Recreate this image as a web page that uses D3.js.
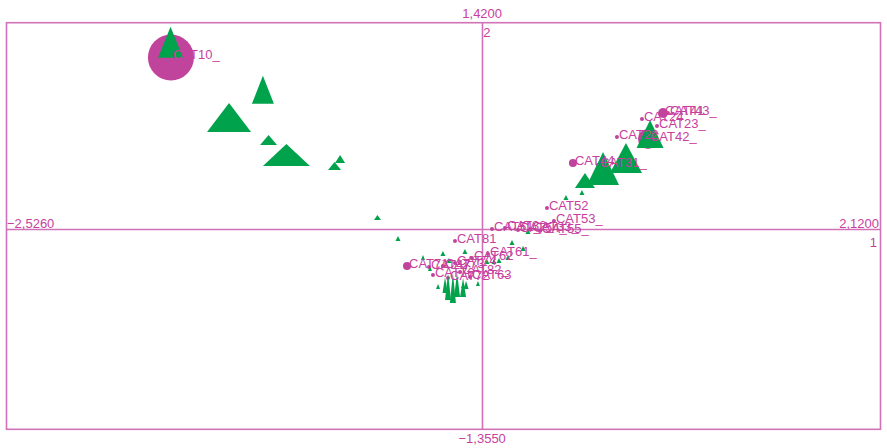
<!DOCTYPE html>
<html>
<head>
<meta charset="utf-8">
<script src="https://cdn.jsdelivr.net/npm/d3@7"></script>
<style>
  html, body { margin: 0; padding: 0; background: #ffffff; }
  svg { display: block; }
  text { font-family: "Liberation Sans", Arial, sans-serif; }
</style>
</head>
<body>
<svg id="chart" width="887" height="448"></svg>
<script>
// ---- Axis extents ----
const xDomain = [-2.526, 2.12];
const yDomain = [-1.355, 1.42];
const axisNames = ["1", "2"];

// ---- Category points (magenta) ----
const catLabels = ["CAT10_","CAT24","CAT41","CAT43_","CAT23_","CAT22","CAT42_","CAT44","CAT31_","CAT52","CAT53_","CAT51_","CAT32_","CAT54_","CAT33_","CAT55_","CAT81","CAT61_","CAT62","CAT82_","CAT71","CAT47","CAT73","CAT74","CAT76","CAT72","CAT63"];
const catX = [-1.652,0.852,0.964,0.990,0.932,0.719,0.884,0.485,0.618,0.347,0.384,0.055,0.124,0.193,0.257,0.310,-0.142,0.033,-0.052,-0.115,-0.397,-0.280,-0.206,-0.142,-0.259,-0.179,-0.062];
const catY = [1.183,0.763,0.804,0.804,0.715,0.640,0.627,0.463,0.449,0.156,0.067,0.012,0.019,0.005,0.012,-0.001,-0.070,-0.158,-0.186,-0.281,-0.240,-0.247,-0.240,-0.220,-0.302,-0.322,-0.315];
const catMass = [0.918,0.007,0.043,0.007,0.007,0.007,0.174,0.028,0.007,0.007,0.007,0.007,0.007,0.007,0.007,0.007,0.007,0.007,0.007,0.007,0.028,0.007,0.007,0.007,0.007,0.007,0.007];

// ---- Individual points (green triangles) ----
const indX = [-1.654,-1.163,-1.343,-1.133,-1.038,-0.753,-0.782,-0.554,-0.445,0.895,0.767,0.645,0.549,0.533,0.448,0.246,0.161,0.220,0.028,0.065,0.092,0.140,-0.089,-0.206,-0.312,-0.275,-0.232,-0.099,-0.020,-0.179,-0.153,-0.131,-0.099,-0.195,-0.083,-0.174];
const indY = [1.180,0.866,0.674,0.586,0.442,0.463,0.415,0.074,-0.070,0.565,0.395,0.313,0.292,0.244,0.210,-0.022,-0.097,-0.138,-0.227,-0.227,-0.220,-0.199,-0.158,-0.172,-0.199,-0.274,-0.397,-0.390,-0.377,-0.472,-0.493,-0.452,-0.452,-0.425,-0.397,-0.220];
const indSpread = [0.50,0.44,0.88,0.34,0.94,0.20,0.26,0.14,0.10,0.54,0.64,0.64,0.40,0.10,0.10,0.10,0.10,0.10,0.10,0.10,0.10,0.10,0.10,0.10,0.08,0.08,0.08,0.08,0.08,0.12,0.12,0.12,0.12,0.10,0.10,0.10];
const indWeight = [0.62,0.56,0.58,0.20,0.44,0.16,0.16,0.10,0.10,0.56,0.60,0.66,0.30,0.10,0.10,0.10,0.10,0.10,0.10,0.10,0.10,0.10,0.10,0.10,0.10,0.10,0.10,0.10,0.10,0.54,0.60,0.48,0.38,0.32,0.16,0.10];

// ---- Drawing ----
const svg = d3.select("#chart");
const W = 887, H = 448;
svg.append("rect").attr("width", W).attr("height", H).attr("fill", "#ffffff");

const x = d3.scaleLinear().domain(xDomain).range([6.5, 880.5]);
const y = d3.scaleLinear().domain(yDomain).range([429.3, 22.7]);
const rScale = d3.scaleSqrt().domain([0, 1]).range([0, 24]);
const sizeScale = d3.scaleLinear().domain([0, 1]).range([0, 50]);

const lineColor = "#d272b6";
const textColor = "#c8409e";
const catColor = "#c0449b";
const indColor = "#00a24c";

const fmt = d3.formatLocale({decimal: ",", thousands: ".", grouping: [3], currency: ["", ""]}).format(".4f");

// frame
svg.append("rect")
  .attr("x", x(xDomain[0])).attr("y", y(yDomain[1]))
  .attr("width", x(xDomain[1]) - x(xDomain[0]))
  .attr("height", y(yDomain[0]) - y(yDomain[1]))
  .attr("fill", "none").attr("stroke", lineColor).attr("stroke-width", 1.6);

// axes through origin
svg.append("line")
  .attr("x1", x(xDomain[0])).attr("x2", x(xDomain[1]))
  .attr("y1", y(0) - 1.3).attr("y2", y(0) - 1.3)
  .attr("stroke", lineColor).attr("stroke-width", 1.6);
svg.append("line")
  .attr("x1", x(0) + 0.8).attr("x2", x(0) + 0.8)
  .attr("y1", y(yDomain[0])).attr("y2", y(yDomain[1]))
  .attr("stroke", lineColor).attr("stroke-width", 1.6);

// axis end labels
const lab = svg.append("g").attr("fill", textColor).attr("font-size", 13);
lab.append("text").attr("x", x(0) + 0.5).attr("y", 18).attr("text-anchor", "middle").text(fmt(yDomain[1]));
lab.append("text").attr("x", x(0) + 0.5).attr("y", 443).attr("text-anchor", "middle").text(fmt(yDomain[0]));
lab.append("text").attr("x", x(xDomain[0]) + 0.5).attr("y", 228).attr("text-anchor", "start").text(fmt(xDomain[0]));
lab.append("text").attr("x", x(xDomain[1]) - 1.5).attr("y", 228).attr("text-anchor", "end").text(fmt(xDomain[1]));
lab.append("text").attr("x", x(xDomain[1]) - 3.5).attr("y", 247).attr("text-anchor", "end").text(axisNames[0]);
lab.append("text").attr("x", x(0) + 1.5).attr("y", 37).attr("text-anchor", "start").text(axisNames[1]);

// category circles
const cats = catLabels.map((l, i) => ({label: l, x: catX[i], y: catY[i], m: catMass[i]}));
svg.append("g").selectAll("circle").data(cats).join("circle")
  .attr("cx", d => x(d.x)).attr("cy", d => y(d.y))
  .attr("r", d => rScale(d.m))
  .attr("fill", catColor);

// triangles
const inds = indX.map((v, i) => ({x: v, y: indY[i], w: indSpread[i], h: indWeight[i]}));
svg.append("g").selectAll("path").data(inds).join("path")
  .attr("d", d => {
    const cx = x(d.x), by = y(d.y), hw = sizeScale(d.w) / 2, hh = sizeScale(d.h);
    return `M${cx - hw},${by}L${cx + hw},${by}L${cx},${by - hh}Z`;
  })
  .attr("fill", indColor);

// category labels
svg.append("g").attr("fill", textColor).attr("font-size", 13)
  .selectAll("text").data(cats).join("text")
  .attr("x", d => x(d.x) + 2)
  .attr("y", d => y(d.y) + 2)
  .text(d => d.label);
</script>
</body>
</html>
